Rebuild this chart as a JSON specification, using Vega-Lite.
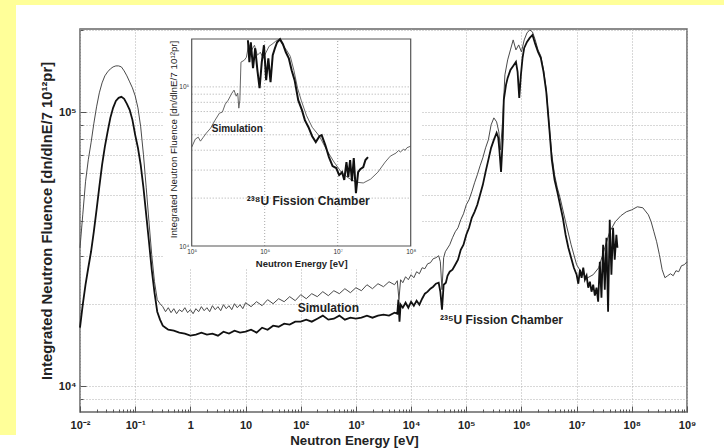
{
"$schema": "https://vega.github.io/schema/vega-lite/v6.json",
"width": 607,
"height": 383,
"autosize": {"type": "none"},
"padding": {"left": 80, "top": 29, "right": 37, "bottom": 36},
"background": "white",
"config": {"view": {"stroke": "#666666", "strokeWidth": 1.5}, "font": "Liberation Sans"},
"datasets": {
"mainSim": [{"E":0.01,"F":32040},{"E":0.01122,"F":42250},{"E":0.01259,"F":55730},{"E":0.01413,"F":67020},{"E":0.01585,"F":77290},{"E":0.01778,"F":90650},{"E":0.01995,"F":104540},{"E":0.02239,"F":117580},{"E":0.02512,"F":127870},{"E":0.02818,"F":135600},{"E":0.03162,"F":140220},{"E":0.03548,"F":143800},{"E":0.03981,"F":146230},{"E":0.04467,"F":147460},{"E":0.05012,"F":147460},{"E":0.05623,"F":146230},{"E":0.0631,"F":141400},{"E":0.07079,"F":135600},{"E":0.07943,"F":128940},{"E":0.08913,"F":122610},{"E":0.1,"F":114650},{"E":0.1122,"F":103670},{"E":0.1259,"F":88400},{"E":0.1413,"F":69890},{"E":0.1585,"F":53000},{"E":0.1778,"F":39850},{"E":0.1995,"F":30210},{"E":0.2239,"F":24090},{"E":0.2512,"F":20720},{"E":0.2818,"F":20030},{"E":0.3162,"F":19540},{"E":0.3548,"F":18730},{"E":0.3981,"F":19370},{"E":0.4467,"F":18580},{"E":0.5012,"F":19210},{"E":0.5623,"F":18420},{"E":0.631,"F":19050},{"E":0.7079,"F":18730},{"E":0.7943,"F":19370},{"E":0.8913,"F":18580},{"E":1,"F":19050},{"E":1.122,"F":18420},{"E":1.259,"F":19210},{"E":1.413,"F":18730},{"E":1.585,"F":19540},{"E":1.778,"F":18890},{"E":1.995,"F":19370},{"E":2.239,"F":18730},{"E":2.512,"F":19700},{"E":2.818,"F":19050},{"E":3.162,"F":19540},{"E":3.548,"F":18890},{"E":3.981,"F":19870},{"E":4.467,"F":19210},{"E":5.012,"F":19700},{"E":5.623,"F":19050},{"E":6.31,"F":20030},{"E":7.079,"F":19370},{"E":7.943,"F":19870},{"E":8.913,"F":19210},{"E":10,"F":20200},{"E":12.59,"F":19540},{"E":15.85,"F":20370},{"E":19.95,"F":19700},{"E":25.12,"F":20720},{"E":31.62,"F":20030},{"E":39.81,"F":20890},{"E":50.12,"F":20370},{"E":63.1,"F":21250},{"E":79.43,"F":20550},{"E":100,"F":21610},{"E":125.9,"F":20890},{"E":158.5,"F":21790},{"E":199.5,"F":21250},{"E":251.2,"F":22160},{"E":316.2,"F":21430},{"E":398.1,"F":22340},{"E":501.2,"F":21790},{"E":631,"F":22720},{"E":794.3,"F":21970},{"E":1000,"F":22910},{"E":1259,"F":22340},{"E":1585,"F":23490},{"E":1995,"F":22720},{"E":2512,"F":23690},{"E":3162,"F":23100},{"E":3981,"F":24090},{"E":5012,"F":23490},{"E":5623,"F":24290},{"E":6026,"F":20720},{"E":6457,"F":24500},{"E":7079,"F":23890},{"E":7943,"F":25120},{"E":8913,"F":24500},{"E":10000,"F":25550},{"E":11220,"F":24910},{"E":12590,"F":26200},{"E":14130,"F":25760},{"E":15850,"F":27090},{"E":17780,"F":26870},{"E":19950,"F":28010},{"E":22390,"F":28250},{"E":25120,"F":29210},{"E":28180,"F":29460},{"E":31620,"F":29960},{"E":33880,"F":28490},{"E":36310,"F":22530},{"E":38900,"F":29460},{"E":41690,"F":30980},{"E":50120,"F":32860},{"E":56230,"F":34840},{"E":63100,"F":36640},{"E":70790,"F":37890},{"E":79430,"F":40520},{"E":89130,"F":42610},{"E":100000,"F":45950},{"E":112200,"F":47920},{"E":125900,"F":51240},{"E":141300,"F":55260},{"E":158500,"F":59100},{"E":177800,"F":63730},{"E":199500,"F":68150},{"E":223900,"F":74120},{"E":251200,"F":79260},{"E":281800,"F":89900},{"E":316200,"F":95330},{"E":354800,"F":92180},{"E":389000,"F":84760},{"E":416900,"F":72890},{"E":457100,"F":93740},{"E":501200,"F":136740},{"E":562300,"F":155070},{"E":631000,"F":168640},{"E":707900,"F":183400},{"E":794300,"F":168640},{"E":891300,"F":175870},{"E":1000000,"F":165830},{"E":1122000,"F":183400},{"E":1259000,"F":194500},{"E":1413000,"F":199450},{"E":1585000,"F":196100},{"E":1778000,"F":183400},{"E":1995000,"F":168640},{"E":2239000,"F":160370},{"E":2512000,"F":142590},{"E":2818000,"F":120570},{"E":3162000,"F":89900},{"E":3548000,"F":69890},{"E":3981000,"F":59100},{"E":4467000,"F":53000},{"E":5012000,"F":48730},{"E":6310000,"F":39850},{"E":7943000,"F":32860},{"E":10000000,"F":27780},{"E":12590000,"F":25760},{"E":15850000,"F":24910},{"E":19950000,"F":25550},{"E":25120000,"F":27090},{"E":31620000,"F":31500},{"E":39810000,"F":36640},{"E":50120000,"F":39850},{"E":63100000,"F":41900},{"E":79430000,"F":43330},{"E":100000000,"F":44060},{"E":125900000,"F":45190},{"E":158500000,"F":44810},{"E":199500000,"F":42250},{"E":223900000,"F":39850},{"E":251200000,"F":36640},{"E":281800000,"F":33690},{"E":316200000,"F":30210},{"E":354800000,"F":26640},{"E":398100000,"F":24910},{"E":446700000,"F":25330},{"E":501200000,"F":25760},{"E":562300000,"F":25330},{"E":631000000,"F":26420},{"E":707900000,"F":26200},{"E":794300000,"F":27550},{"E":891300000,"F":27780},{"E":1000000000,"F":28490}],
"mainU": [{"E":0.01,"F":16380},{"E":0.01122,"F":19870},{"E":0.01259,"F":23490},{"E":0.01413,"F":27090},{"E":0.01585,"F":30980},{"E":0.01778,"F":36640},{"E":0.01995,"F":44060},{"E":0.02239,"F":53440},{"E":0.02512,"F":64270},{"E":0.02818,"F":74740},{"E":0.03162,"F":84760},{"E":0.03548,"F":95330},{"E":0.03981,"F":103670},{"E":0.04467,"F":109940},{"E":0.05012,"F":112750},{"E":0.05623,"F":113690},{"E":0.0631,"F":111810},{"E":0.07079,"F":107210},{"E":0.07943,"F":101950},{"E":0.08913,"F":93740},{"E":0.1,"F":82660},{"E":0.1122,"F":74120},{"E":0.1259,"F":64270},{"E":0.1413,"F":53000},{"E":0.1585,"F":42250},{"E":0.1778,"F":33690},{"E":0.1995,"F":26640},{"E":0.2239,"F":21970},{"E":0.2512,"F":18730},{"E":0.2818,"F":17520},{"E":0.3162,"F":16650},{"E":0.3548,"F":16380},{"E":0.3981,"F":16100},{"E":0.5012,"F":15970},{"E":0.631,"F":15710},{"E":0.7943,"F":15580},{"E":1,"F":15320},{"E":1.259,"F":15450},{"E":1.585,"F":15710},{"E":1.995,"F":15450},{"E":2.512,"F":15580},{"E":3.162,"F":15320},{"E":3.981,"F":15840},{"E":5.012,"F":15580},{"E":6.31,"F":15970},{"E":7.943,"F":15710},{"E":10,"F":15840},{"E":12.59,"F":16100},{"E":15.85,"F":15710},{"E":19.95,"F":16380},{"E":25.12,"F":16100},{"E":31.62,"F":16650},{"E":39.81,"F":16510},{"E":50.12,"F":16940},{"E":63.1,"F":16800},{"E":79.43,"F":17230},{"E":100,"F":17230},{"E":125.9,"F":17520},{"E":158.5,"F":17230},{"E":199.5,"F":17660},{"E":251.2,"F":18120},{"E":316.2,"F":17520},{"E":398.1,"F":17660},{"E":501.2,"F":18120},{"E":631,"F":17520},{"E":794.3,"F":17810},{"E":1000,"F":17660},{"E":1259,"F":17810},{"E":1585,"F":18120},{"E":1995,"F":17810},{"E":2512,"F":18120},{"E":3162,"F":18270},{"E":3981,"F":18120},{"E":5012,"F":18580},{"E":5623,"F":18420},{"E":5888,"F":20720},{"E":6166,"F":17230},{"E":6457,"F":19870},{"E":7079,"F":19370},{"E":7943,"F":20200},{"E":8913,"F":19370},{"E":10000,"F":20370},{"E":11220,"F":19700},{"E":12590,"F":20550},{"E":14130,"F":19870},{"E":15850,"F":20890},{"E":17780,"F":21790},{"E":19950,"F":22160},{"E":22390,"F":22720},{"E":25120,"F":23100},{"E":28180,"F":23690},{"E":31620,"F":23890},{"E":33880,"F":22160},{"E":36310,"F":19050},{"E":38900,"F":23490},{"E":42660,"F":23890},{"E":45710,"F":25330},{"E":50120,"F":26200},{"E":56230,"F":26640},{"E":63100,"F":27780},{"E":70790,"F":28970},{"E":79430,"F":31500},{"E":89130,"F":32860},{"E":100000,"F":35730},{"E":112200,"F":37890},{"E":125900,"F":41210},{"E":141300,"F":43330},{"E":158500,"F":45950},{"E":177800,"F":49970},{"E":199500,"F":54340},{"E":223900,"F":60600},{"E":251200,"F":67020},{"E":281800,"F":74120},{"E":316200,"F":79260},{"E":354800,"F":84060},{"E":380200,"F":80610},{"E":398100,"F":72890},{"E":426600,"F":60600},{"E":457100,"F":79260},{"E":478600,"F":110870},{"E":524800,"F":125730},{"E":562300,"F":133340},{"E":631000,"F":142590},{"E":707900,"F":147460},{"E":794300,"F":152490},{"E":851100,"F":140220},{"E":912000,"F":112750},{"E":977200,"F":136740},{"E":1047000,"F":157700},{"E":1122000,"F":171500},{"E":1259000,"F":180350},{"E":1413000,"F":186500},{"E":1585000,"F":191250},{"E":1778000,"F":177350},{"E":1995000,"F":165830},{"E":2239000,"F":157700},{"E":2512000,"F":140220},{"E":2818000,"F":118570},{"E":3162000,"F":89900},{"E":3548000,"F":67020},{"E":3981000,"F":56670},{"E":4467000,"F":51240},{"E":5012000,"F":45950},{"E":5623000,"F":41210},{"E":6310000,"F":35730},{"E":7079000,"F":32040},{"E":7943000,"F":29460},{"E":8913000,"F":27090},{"E":10000000,"F":25550},{"E":10720000,"F":23690},{"E":11480000,"F":26640},{"E":12300000,"F":24910},{"E":13180000,"F":27090},{"E":14130000,"F":24500},{"E":15140000,"F":25330},{"E":16220000,"F":22910},{"E":17380000,"F":24090},{"E":18620000,"F":22160},{"E":19950000,"F":23490},{"E":21380000,"F":21430},{"E":22910000,"F":22910},{"E":24550000,"F":20370},{"E":26300000,"F":28490},{"E":28180000,"F":21070},{"E":30200000,"F":32860},{"E":32360000,"F":22530},{"E":34670000,"F":34840},{"E":37150000,"F":18730},{"E":39810000,"F":40520},{"E":42660000,"F":25550},{"E":45710000,"F":37890},{"E":48980000,"F":28970},{"E":52480000,"F":35730},{"E":54950000,"F":32040}],
"insetSim": [{"E":100000,"F":41800},{"E":112200,"F":47000},{"E":123000,"F":48300},{"E":131800,"F":45600},{"E":144500,"F":48300},{"E":158500,"F":51200},{"E":182000,"F":55100},{"E":209000,"F":61800},{"E":240000,"F":68400},{"E":263000,"F":69400},{"E":288000,"F":77900},{"E":316000,"F":82500},{"E":355000,"F":91300},{"E":380000,"F":95400},{"E":407000,"F":87400},{"E":427000,"F":91300},{"E":442000,"F":73500},{"E":457000,"F":82500},{"E":473000,"F":143000},{"E":525000,"F":147100},{"E":562000,"F":153600},{"E":603000,"F":185300},{"E":661000,"F":170000},{"E":724000,"F":182700},{"E":794000,"F":158100},{"E":871000,"F":165100},{"E":955000,"F":151400},{"E":1047000,"F":165100},{"E":1148000,"F":180000},{"E":1259000,"F":185300},{"E":1413000,"F":193600},{"E":1585000,"F":199300},{"E":1778000,"F":182700},{"E":1995000,"F":170000},{"E":2240000,"F":155800},{"E":2510000,"F":127300},{"E":2820000,"F":98100},{"E":3160000,"F":82500},{"E":3720000,"F":66400},{"E":4470000,"F":55800},{"E":5620000,"F":49000},{"E":7080000,"F":40050},{"E":8910000,"F":33700},{"E":11220000,"F":29100},{"E":14130000,"F":26700},{"E":17780000,"F":25200},{"E":22400000,"F":24900},{"E":28200000,"F":26300},{"E":35500000,"F":29100},{"E":44700000,"F":33700},{"E":52500000,"F":36700},{"E":63100000,"F":38400},{"E":68000000,"F":39800},{"E":72400000,"F":39000},{"E":79400000,"F":40500},{"E":84000000,"F":40000},{"E":89100000,"F":41500},{"E":100000000,"F":42400}],
"insetU": [{"E":589000,"F":196500},{"E":617000,"F":143000},{"E":646000,"F":190900},{"E":692000,"F":131000},{"E":741000,"F":175000},{"E":794000,"F":127300},{"E":851000,"F":98100},{"E":912000,"F":143000},{"E":977000,"F":182700},{"E":1047000,"F":110200},{"E":1122000,"F":151400},{"E":1202000,"F":107000},{"E":1288000,"F":158100},{"E":1380000,"F":175000},{"E":1479000,"F":190900},{"E":1622000,"F":199300},{"E":1778000,"F":185300},{"E":1950000,"F":165100},{"E":2140000,"F":151400},{"E":2340000,"F":127300},{"E":2570000,"F":110200},{"E":2880000,"F":82500},{"E":3240000,"F":71400},{"E":3550000,"F":61800},{"E":3980000,"F":55800},{"E":4470000,"F":49000},{"E":5010000,"F":45000},{"E":5620000,"F":49000},{"E":6030000,"F":49700},{"E":6760000,"F":43100},{"E":7590000,"F":36200},{"E":8510000,"F":31800},{"E":9550000,"F":30900},{"E":10470000,"F":27900},{"E":11480000,"F":29100},{"E":12300000,"F":26000},{"E":13180000,"F":33700},{"E":13960000,"F":27100},{"E":14790000,"F":34700},{"E":15670000,"F":25600},{"E":16600000,"F":35700},{"E":17780000,"F":21500},{"E":19050000,"F":29100},{"E":20400000,"F":30400},{"E":22400000,"F":31300},{"E":24000000,"F":34700},{"E":26000000,"F":36200}],
"mainLab": [{"E":88.1,"F":19370,"t":"Simulation"},{"E":33400,"F":17520,"t":"²³⁵U Fission Chamber"}],
"insetLab": [{"E":188000,"F":54200,"t":"Simulation"},{"E":567000,"F":19170,"t":"²³⁸U Fission Chamber"}],
"insetGridY": [{"F":20000},{"F":30000},{"F":40000},{"F":50000},{"F":60000},{"F":70000},{"F":80000},{"F":90000},{"F":100000}],
"insetGridX": [{"E":1000000},{"E":10000000}]
},
"layer": [
{
"layer": [
{"data": {"name": "mainSim"},
 "mark": {"type": "line", "color": "#4a4a4a", "strokeWidth": 1},
 "encoding": {
  "x": {"field": "E", "type": "quantitative",
   "scale": {"type": "log", "domain": [0.01, 1000000000], "nice": false},
   "axis": {"values": [0.01,0.02,0.03,0.04,0.05,0.06,0.07,0.08,0.09,0.1,0.2,0.3,0.4,0.5,0.6,0.7,0.8,0.9,1,2,3,4,5,6,7,8,9,10,20,30,40,50,60,70,80,90,100,200,300,400,500,600,700,800,900,1000,2000,3000,4000,5000,6000,7000,8000,9000,10000,20000,30000,40000,50000,60000,70000,80000,90000,100000,200000,300000,400000,500000,600000,700000,800000,900000,1000000,2000000,3000000,4000000,5000000,6000000,7000000,8000000,9000000,10000000,20000000,30000000,40000000,50000000,60000000,70000000,80000000,90000000,100000000,200000000,300000000,400000000,500000000,600000000,700000000,800000000,900000000,1000000000],
    "grid": true, "gridColor": "#b0b0b0", "gridDash": [1, 2],
    "gridOpacity": {"condition": {"test": "abs(log(datum.value)/LN10-round(log(datum.value)/LN10))<0.001", "value": 1}, "value": 0},
    "tickSize": {"condition": {"test": "abs(log(datum.value)/LN10-round(log(datum.value)/LN10))<0.001", "value": -6}, "value": -3},
    "tickColor": "#555555", "domain": false,
    "labelExpr": "abs(log(datum.value)/LN10-round(log(datum.value)/LN10))<0.001 ? ['10⁻²','10⁻¹','1','10','10²','10³','10⁴','10⁵','10⁶','10⁷','10⁸','10⁹'][round(log(datum.value)/LN10)+2] : ''",
    "labelFontSize": 11, "labelFontWeight": "bold", "labelColor": "#222222", "labelPadding": 13, "labelOverlap": false, "labelFlush": false,
    "title": "Neutron Energy [eV]", "titleFontSize": 13.3, "titleFontWeight": "bold", "titleColor": "#222222",
    "titleX": 274, "titleY": 32, "titleBaseline": "alphabetic", "titleAlign": "center"}},
  "y": {"field": "F", "type": "quantitative",
   "scale": {"type": "log", "domain": [8070, 201000], "nice": false},
   "axis": {"values": [9000,10000,20000,30000,40000,50000,60000,70000,80000,90000,100000,200000],
    "grid": true, "gridColor": "#b0b0b0", "gridDash": [1, 2],
    "tickSize": {"condition": {"test": "datum.value==10000||datum.value==100000", "value": -6}, "value": -3},
    "tickColor": "#555555", "domain": false,
    "labelExpr": "datum.value==10000 ? '10⁴' : datum.value==100000 ? '10⁵' : ''",
    "labelFontSize": 11, "labelFontWeight": "bold", "labelColor": "#222222", "labelPadding": 10, "labelOverlap": false,
    "title": "Integrated Neutron Fluence [dn/dlnE/7 10¹²pr]", "titleFontSize": 14.8, "titleFontWeight": "bold", "titleColor": "#222222",
    "titleX": -29, "titleY": 191.5, "titleBaseline": "alphabetic", "titleAlign": "center", "titleAngle": -90}}
 }},
{"data": {"name": "mainU"},
 "mark": {"type": "line", "color": "#111111", "strokeWidth": 1.8},
 "encoding": {"x": {"field": "E", "type": "quantitative"}, "y": {"field": "F", "type": "quantitative"}}},
{"data": {"name": "mainLab"},
 "mark": {"type": "text", "align": "left", "baseline": "middle", "fontSize": 12, "fontWeight": "bold", "color": "#222222"},
 "encoding": {"x": {"field": "E", "type": "quantitative"}, "y": {"field": "F", "type": "quantitative"}, "text": {"field": "t"}}}
]
},
{
"layer": [
{"data": {"values": [{}]},
 "mark": {"type": "rect", "fill": "#ffff99", "clip": false},
 "encoding": {
  "x": {"datum": 0, "type": "quantitative", "scale": {"domain": [0, 1], "range": [-80, 644], "nice": false, "zero": false}, "axis": null},
  "x2": {"datum": 0.0221},
  "y": {"datum": 0.029, "type": "quantitative", "scale": {"domain": [0, 1], "range": [419, -29], "nice": false, "zero": false}, "axis": null},
  "y2": {"datum": 1}}},
{"data": {"values": [{}]},
 "mark": {"type": "rect", "fill": "#ffff99", "clip": false},
 "encoding": {"x": {"datum": 0}, "x2": {"datum": 1}, "y": {"datum": 0.98884}, "y2": {"datum": 1}}},
{"data": {"values": [{}]},
 "mark": {"type": "rect", "fill": "white", "clip": false},
 "encoding": {"x": {"datum": 0.22514}, "x2": {"datum": 0.58149}, "y": {"datum": 0.40179}, "y2": {"datum": 0.9308}}}
]
},
{
"layer": [
{"data": {"name": "insetGridY"},
 "mark": {"type": "rule", "color": "#a8a8a8", "strokeDash": [1, 2], "strokeWidth": 1},
 "encoding": {
  "x": {"datum": 100000, "type": "quantitative",
   "scale": {"type": "log", "domain": [100000, 100000000], "range": [111.7, 330.7], "nice": false},
   "axis": {"orient": "bottom", "offset": -166, "values": [100000, 1000000, 10000000, 100000000],
    "grid": false, "ticks": false, "domain": false, "zindex": 1,
    "labelExpr": "['10⁵','10⁶','10⁷','10⁸'][round(log(datum.value)/LN10)-5]",
    "labelFontSize": 6.5, "labelPadding": 2, "labelColor": "#333333", "labelOverlap": false, "labelFlush": false,
    "title": "Neutron Energy [eV]", "titleFontSize": 9.5, "titleFontWeight": "bold", "titleColor": "#222222",
    "titleY": 20, "titleBaseline": "alphabetic"}},
  "x2": {"datum": 100000000},
  "y": {"field": "F", "type": "quantitative",
   "scale": {"type": "log", "domain": [10000, 200000], "range": [217, 10], "nice": false},
   "axis": {"orient": "left", "offset": -111.7, "values": [10000, 100000],
    "grid": false, "ticks": false, "domain": false, "zindex": 1,
    "labelExpr": "datum.value==10000 ? '10⁴' : '10⁵'",
    "labelFontSize": 6.5, "labelPadding": 3, "labelColor": "#333333", "labelOverlap": false,
    "title": "Integrated Neutron Fluence [dn/dlnE/7 10¹²pr]", "titleFontSize": 9.8, "titleFontWeight": "normal", "titleColor": "#222222",
    "titleX": -15.7, "titleY": 110, "titleBaseline": "alphabetic", "titleAlign": "center", "titleAngle": -90}}
 }},
{"data": {"name": "insetGridX"},
 "mark": {"type": "rule", "color": "#a8a8a8", "strokeDash": [1, 2], "strokeWidth": 1},
 "encoding": {"x": {"field": "E", "type": "quantitative"}, "y": {"datum": 10000}, "y2": {"datum": 200000}}},
{"data": {"values": [{}]},
 "mark": {"type": "rect", "filled": false, "color": "#555555", "strokeWidth": 1.2},
 "encoding": {"x": {"datum": 100000}, "x2": {"datum": 100000000}, "y": {"datum": 10000}, "y2": {"datum": 200000}}},
{"data": {"name": "insetSim"},
 "mark": {"type": "line", "color": "#555555", "strokeWidth": 0.9},
 "encoding": {"x": {"field": "E", "type": "quantitative"}, "y": {"field": "F", "type": "quantitative"}}},
{"data": {"name": "insetU"},
 "mark": {"type": "line", "color": "#111111", "strokeWidth": 2},
 "encoding": {"x": {"field": "E", "type": "quantitative"}, "y": {"field": "F", "type": "quantitative"}}},
{"data": {"name": "insetLab"},
 "transform": [{"filter": "datum.t == 'Simulation'"}],
 "mark": {"type": "text", "align": "left", "baseline": "middle", "fontSize": 10, "fontWeight": "bold", "color": "#222222"},
 "encoding": {"x": {"field": "E", "type": "quantitative"}, "y": {"field": "F", "type": "quantitative"}, "text": {"field": "t"}}},
{"data": {"name": "insetLab"},
 "transform": [{"filter": "datum.t != 'Simulation'"}],
 "mark": {"type": "text", "align": "left", "baseline": "middle", "fontSize": 12, "fontWeight": "bold", "color": "#222222"},
 "encoding": {"x": {"field": "E", "type": "quantitative"}, "y": {"field": "F", "type": "quantitative"}, "text": {"field": "t"}}}
]
}
],
"resolve": {"scale": {"x": "independent", "y": "independent"}}
}
